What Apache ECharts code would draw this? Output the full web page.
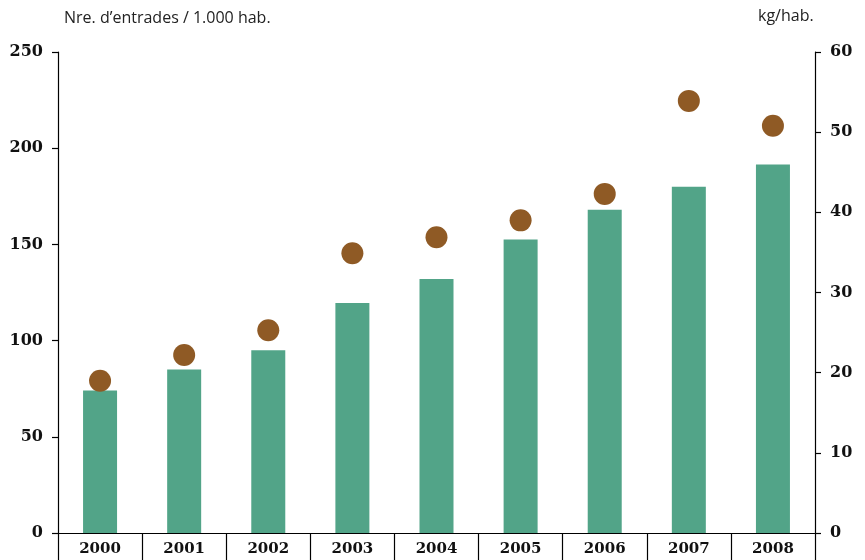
<!DOCTYPE html>
<html>
<head>
<meta charset="utf-8">
<script src="https://cdn.jsdelivr.net/npm/echarts@6/dist/echarts.min.js"></script>
<style>
  html, body { margin: 0; padding: 0; background: #fff; }
  #chart { width: 865px; height: 560px; }
</style>
</head>
<body>
<div id="chart"></div>
<script>
// dades
const years = ['2000', '2001', '2002', '2003', '2004', '2005', '2006', '2007', '2008']
const entrades = [74, 85, 95, 119.5, 132, 152.5, 168, 180, 191.5] // nre. / 1.000 hab.
const kgHab = [19, 22.2, 25.3, 34.9, 36.9, 39, 42.3, 53.9, 50.8] // kg/hab.

const serif = 'DejaVu Serif'
const sans = 'Open Sans'

let myChart = echarts.init(document.getElementById('chart'))
myChart.setOption({
  animation: false,
  title: [
    {
      text: 'Nre. d\u2019entrades / 1.000 hab.',
      left: 59,
      top: 5,
      textStyle: { fontFamily: sans, fontSize: 16, fontWeight: 'normal', color: '#222' },
    },
    {
      text: 'kg/hab.',
      left: 753,
      top: 3,
      textStyle: { fontFamily: sans, fontSize: 16, fontWeight: 'normal', color: '#222' },
    },
  ],
  grid: { left: 58, right: 50, top: 52, bottom: 27, containLabel: false },
  xAxis: {
    type: 'category',
    data: years,
    boundaryGap: true,
    axisLine: { lineStyle: { color: '#000', width: 1.2 } },
    axisTick: { show: true, length: 28, lineStyle: { color: '#000', width: 1.2 } },
    axisLabel: {
      margin: 9,
      fontFamily: serif,
      fontWeight: 'bold',
      fontSize: 15,
      color: '#111',
    },
  },
  yAxis: [
    {
      type: 'value',
      min: 0,
      max: 250,
      interval: 50,
      position: 'left',
      splitLine: { show: false },
      axisLine: { show: true, lineStyle: { color: '#000', width: 1.2 } },
      axisTick: { show: true, length: 6, lineStyle: { color: '#000', width: 1.2 } },
      axisLabel: { margin: 15, fontFamily: serif, fontWeight: 'bold', fontSize: 16, color: '#111' },
    },
    {
      type: 'value',
      min: 0,
      max: 60,
      interval: 10,
      position: 'right',
      splitLine: { show: false },
      axisLine: { show: true, lineStyle: { color: '#000', width: 1.2 } },
      axisTick: { show: true, length: 6, lineStyle: { color: '#000', width: 1.2 } },
      axisLabel: { margin: 15, fontFamily: serif, fontWeight: 'bold', fontSize: 16, color: '#111' },
    },
  ],
  series: [
    {
      name: 'entrades',
      type: 'bar',
      yAxisIndex: 0,
      barWidth: 34,
      itemStyle: { color: '#52a488' },
      data: entrades,
    },
    {
      name: 'kg',
      type: 'scatter',
      yAxisIndex: 1,
      symbol: 'circle',
      symbolSize: 22,
      itemStyle: { color: '#8f5a25', opacity: 1 },
      data: kgHab,
      z: 3,
    },
  ],
})
</script>
</body>
</html>
